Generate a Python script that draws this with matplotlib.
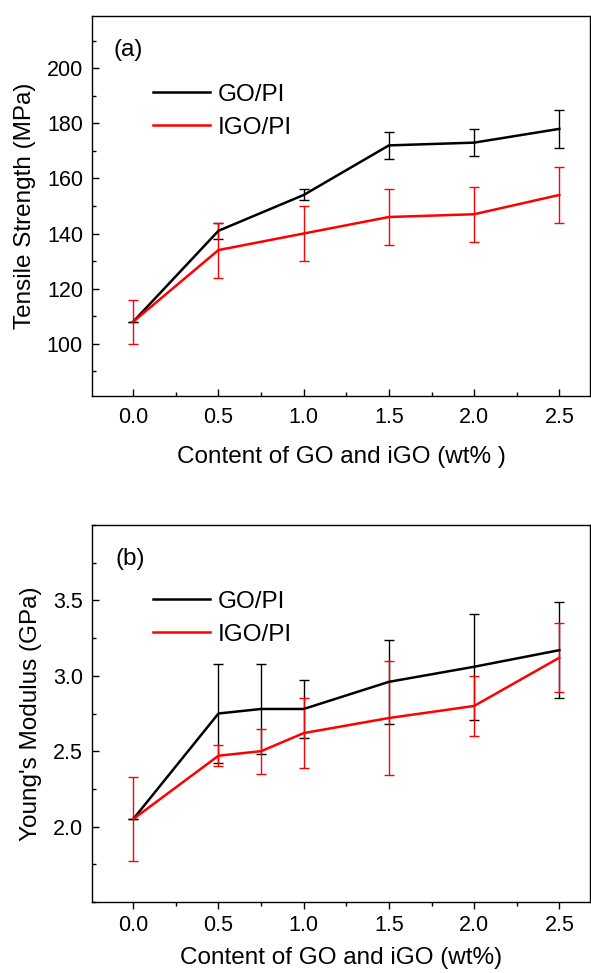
import matplotlib.pyplot as plt
from matplotlib.lines import Line2D
from matplotlib.ticker import MultipleLocator

plt.rcParams['font.family'] = ['Liberation Sans', 'DejaVu Sans']

# (a) tensile strength
x_ts = [0.0, 0.5, 1.0, 1.5, 2.0, 2.5]
go_ts = [108, 141, 154, 172, 173, 178]
go_ts_err = [0, 3, 2, 5, 5, 7]
igo_ts = [108, 134, 140, 146, 147, 154]
igo_ts_err = [8, 10, 10, 10, 10, 10]

# (b) young's modulus
x_ym = [0.0, 0.5, 0.75, 1.0, 1.5, 2.0, 2.5]
go_ym = [2.05, 2.75, 2.78, 2.78, 2.96, 3.06, 3.17]
go_ym_err = [0, 0.33, 0.30, 0.19, 0.28, 0.35, 0.32]
igo_ym = [2.05, 2.47, 2.50, 2.62, 2.72, 2.80, 3.12]
igo_ym_err = [0.28, 0.07, 0.15, 0.23, 0.38, 0.20, 0.23]

xticks = [0.0, 0.5, 1.0, 1.5, 2.0, 2.5]
labels = ['GO/PI', 'IGO/PI']
colors = ['black', 'red']

fig = plt.figure(figsize=(5.91, 9.73), dpi=100)
ax1 = fig.add_axes([0.1557, 0.593, 0.8426, 0.3906])
ax2 = fig.add_axes([0.1557, 0.073, 0.8426, 0.3874])


def draw(ax, x, go, go_err, igo, igo_err, leg_y):
    ax.errorbar(x, go, yerr=go_err, color=colors[0], lw=1.8, elinewidth=1.0,
                capsize=3.5, capthick=1.0)
    ax.errorbar(x, igo, yerr=igo_err, color=colors[1], lw=1.8, elinewidth=1.0,
                capsize=3.5, capthick=1.0)
    for s in ax.spines.values():
        s.set_linewidth(1.0)
    ax.set_xlim(-0.242, 2.68)
    ax.set_xticks(xticks)
    ax.set_xticklabels(['%.1f' % v for v in xticks])
    ax.xaxis.set_minor_locator(MultipleLocator(0.25))
    ax.tick_params(axis='both', which='major', labelsize=15.5, length=5, width=1.0)
    ax.tick_params(axis='both', which='minor', length=3, width=1.0)
    ax.tick_params(axis='y', which='both', direction='in', pad=6.5)
    handles = [Line2D([], [], color=c, lw=1.8) for c in colors]
    ax.legend(handles, labels, loc='upper left', bbox_to_anchor=(0.1225, leg_y),
              frameon=False, fontsize=17.5, handlelength=2.35,
              handletextpad=0.33, labelspacing=0.46, borderpad=0,
              borderaxespad=0)


draw(ax1, x_ts, go_ts, go_ts_err, igo_ts, igo_ts_err, 0.822)
ax1.set_ylim(81, 219)
ax1.yaxis.set_major_locator(MultipleLocator(20))
ax1.yaxis.set_minor_locator(MultipleLocator(10))
ax1.tick_params(axis='x', which='both', direction='in', pad=8)
ax1.set_ylabel('Tensile Strength (MPa)', fontsize=17.5, labelpad=8)
ax1.set_xlabel('Content of GO and iGO (wt% )', fontsize=17.5, labelpad=13)
ax1.text(0.044, 0.91, '(a)', transform=ax1.transAxes, fontsize=17.5,
         ha='left', va='center')

draw(ax2, x_ym, go_ym, go_ym_err, igo_ym, igo_ym_err, 0.826)
ax2.set_ylim(1.5, 4.0)
ax2.yaxis.set_minor_locator(MultipleLocator(0.25))
ax2.set_yticks([2.0, 2.5, 3.0, 3.5])
ax2.tick_params(axis='x', which='both', direction='out', pad=4.5)
ax2.set_ylabel("Young's Modulus (GPa)", fontsize=17.5, labelpad=8)
ax2.set_xlabel('Content of GO and iGO (wt%)', fontsize=17.5, labelpad=8)
ax2.text(0.048, 0.91, '(b)', transform=ax2.transAxes, fontsize=17.5,
         ha='left', va='center')

fig.savefig('out.png', dpi=100)
